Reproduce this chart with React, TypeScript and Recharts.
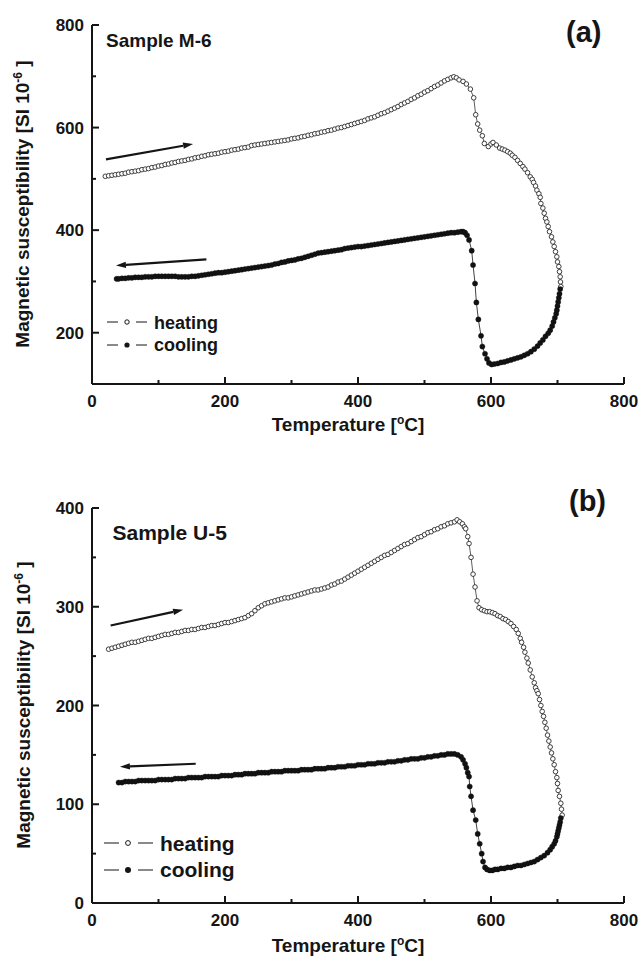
import React from 'react';
import { LineChart, Line, XAxis, YAxis, ReferenceLine } from 'recharts';

const FONT = '"Liberation Sans", Arial, Helvetica, sans-serif';
const INK = '#151515';

// ---- axis ticks ----
const X_TICKS = [0, 100, 200, 300, 400, 500, 600, 700, 800];
const X_LABELED = [0, 200, 400, 600, 800];
const Y_TICKS_A = [100, 200, 300, 400, 500, 600, 700, 800];
const Y_LABELED_A = [200, 400, 600, 800];
const Y_TICKS_B = [0, 50, 100, 150, 200, 250, 300, 350, 400];
const Y_LABELED_B = [0, 100, 200, 300, 400];

// ---- Sample M-6 : heating [T, chi] ----
const HEAT_M6: [number, number][] = [
  [20, 505], [25, 506], [30, 507], [35, 508], [40, 509], [45, 510], [50, 511], [55, 513], [60, 514], [65, 515],
  [70, 516], [75, 518], [80, 519], [85, 520], [90, 522], [95, 523], [100, 525], [105, 526], [110, 528], [115, 529],
  [120, 531], [125, 532], [130, 534], [135, 535], [140, 536], [145, 538], [150, 539], [155, 541], [160, 542], [165, 544],
  [170, 545], [175, 547], [180, 548], [185, 549], [190, 550], [195, 552], [200, 553], [205, 554], [210, 556], [215, 557],
  [220, 558], [225, 560], [230, 561], [235, 562], [240, 565], [245, 566], [250, 567], [255, 568], [260, 569], [265, 570],
  [270, 571], [275, 572], [280, 573], [285, 574], [290, 575], [295, 576], [300, 578], [305, 579], [310, 580], [315, 582],
  [320, 583], [325, 585], [330, 586], [335, 588], [340, 589], [345, 591], [350, 592], [355, 594], [360, 595], [365, 597],
  [370, 599], [375, 600], [380, 602], [385, 604], [390, 606], [395, 608], [400, 610], [405, 612], [410, 614], [415, 617],
  [420, 619], [425, 621], [430, 624], [435, 627], [440, 629], [445, 632], [450, 635], [455, 638], [460, 641], [465, 645],
  [470, 648], [475, 651], [480, 655], [485, 658], [490, 662], [495, 665], [500, 669], [505, 672], [510, 676], [515, 680],
  [520, 683], [525, 687], [530, 691], [535, 694], [540, 697], [544, 699], [548, 697], [552, 693], [558, 690], [563, 685],
  [569, 675], [574, 658], [577, 625], [580, 607], [583, 595], [587, 584], [590, 569], [596, 563], [600, 568], [603, 571],
  [608, 566], [613, 560], [617, 558], [621, 556], [625, 553], [629, 550], [632, 546], [636, 542], [640, 536], [644, 530],
  [648, 524], [651, 519], [655, 512], [659, 504], [662, 499], [664, 493], [667, 486], [669, 478], [672, 471], [674, 464],
  [675, 452], [678, 443], [680, 433], [682, 423], [684, 416], [686, 407], [688, 397], [691, 387], [693, 377], [695, 368],
  [697, 358], [699, 348], [700, 338], [702, 329], [703, 319], [704, 309], [704.5, 299], [705, 290],
];

// ---- Sample M-6 : cooling ----
const COOL_M6: [number, number][] = [
  [37, 305], [40, 305], [45, 306], [50, 306], [55, 307], [60, 307], [65, 308], [70, 308], [75, 308], [80, 309],
  [85, 309], [90, 309], [95, 310], [100, 310], [105, 310], [110, 310], [115, 310], [120, 310], [125, 310], [130, 309],
  [135, 309], [140, 309], [145, 309], [150, 310], [155, 310], [160, 311], [165, 312], [170, 313], [175, 314], [180, 315],
  [185, 316], [190, 317], [195, 317], [200, 318], [205, 319], [210, 320], [215, 321], [220, 322], [225, 323], [230, 324],
  [235, 325], [240, 326], [245, 327], [250, 328], [255, 329], [260, 330], [265, 331], [270, 332], [275, 334], [280, 335],
  [285, 337], [290, 338], [295, 340], [300, 341], [305, 342], [310, 344], [315, 345], [320, 347], [325, 349], [330, 351],
  [335, 353], [340, 355], [345, 356], [350, 357], [355, 358], [360, 359], [365, 360], [370, 361], [375, 362], [380, 364],
  [385, 365], [390, 366], [395, 367], [400, 368], [405, 368], [410, 369], [415, 370], [420, 371], [425, 372], [430, 373],
  [435, 374], [440, 375], [445, 376], [450, 377], [455, 378], [460, 379], [465, 380], [470, 381], [475, 382], [480, 383],
  [485, 384], [490, 385], [495, 386], [500, 387], [505, 388], [510, 389], [515, 390], [520, 391], [525, 392], [530, 393],
  [535, 394], [540, 395], [545, 395], [550, 396], [555, 397], [558, 397], [561, 395], [564, 390], [567, 381], [571, 360],
  [573, 332], [576, 296], [578, 259], [581, 226], [585, 194], [587, 173], [591, 159], [594, 149], [597, 141], [601, 138],
  [605, 139], [610, 140], [615, 142], [620, 143], [625, 145], [630, 147], [635, 149], [640, 151], [645, 153], [650, 156],
  [655, 159], [660, 163], [665, 168], [670, 174], [674, 180], [678, 186], [682, 193], [686, 199], [689, 205], [692, 213],
  [694, 221], [696, 229], [698, 237], [699, 244], [700, 252], [701, 260], [702, 268], [703, 276], [704, 285],
];

// ---- Sample U-5 : heating ----
const HEAT_U5: [number, number][] = [
  [25, 257], [30, 258], [35, 259], [40, 260], [45, 261], [50, 262], [55, 263], [60, 264], [65, 264], [70, 265],
  [75, 266], [80, 267], [85, 268], [90, 268], [95, 269], [100, 270], [105, 271], [110, 272], [115, 272], [120, 273],
  [125, 274], [130, 274], [135, 275], [140, 276], [145, 276], [150, 277], [155, 277], [160, 278], [165, 279], [170, 279],
  [175, 280], [180, 281], [185, 281], [190, 282], [195, 283], [200, 284], [205, 284], [210, 285], [215, 286], [220, 287],
  [225, 288], [230, 289], [235, 291], [240, 293], [245, 296], [250, 299], [255, 301], [260, 303], [265, 304], [270, 305],
  [275, 306], [280, 307], [285, 308], [290, 309], [295, 309], [300, 310], [305, 311], [310, 312], [315, 313], [320, 314],
  [325, 315], [330, 316], [335, 317], [340, 317], [345, 318], [350, 319], [355, 320], [360, 322], [365, 323], [370, 325],
  [375, 326], [380, 328], [385, 330], [390, 332], [395, 334], [400, 336], [405, 338], [410, 340], [415, 342], [420, 344],
  [425, 346], [430, 348], [435, 350], [440, 352], [445, 353], [450, 355], [455, 357], [460, 359], [465, 361], [470, 363],
  [475, 364], [480, 366], [485, 368], [490, 370], [495, 371], [500, 373], [505, 375], [510, 376], [515, 378], [520, 379],
  [525, 381], [530, 382], [535, 384], [540, 385], [545, 386], [549, 388], [553, 386], [557, 384], [560, 381], [562, 379],
  [565, 371], [567, 364], [570, 350], [573, 333], [576, 320], [579, 306], [582, 299], [586, 297], [590, 296], [594, 295],
  [598, 295], [602, 294], [606, 293], [610, 291], [614, 290], [618, 288], [622, 287], [626, 285], [630, 283], [634, 280],
  [638, 277], [641, 273], [644, 268], [646, 264], [649, 259], [651, 254], [654, 248], [656, 243], [659, 236], [662, 229],
  [665, 223], [667, 218], [669, 215], [671, 212], [673, 206], [675, 200], [677, 194], [679, 189], [681, 183], [683, 177],
  [685, 170], [687, 164], [689, 158], [691, 152], [693, 146], [695, 140], [697, 133], [699, 127], [700, 121], [701, 114],
  [703, 108], [705, 101], [706, 95], [707, 89],
];

// ---- Sample U-5 : cooling ----
const COOL_U5: [number, number][] = [
  [40, 122], [45, 122], [50, 123], [55, 123], [60, 123], [65, 123], [70, 124], [75, 124], [80, 124], [85, 124],
  [90, 124], [95, 124], [100, 125], [105, 125], [110, 125], [115, 125], [120, 125], [125, 126], [130, 126], [135, 126],
  [140, 126], [145, 127], [150, 127], [155, 127], [160, 127], [165, 127], [170, 128], [175, 128], [180, 128], [185, 128],
  [190, 128], [195, 129], [200, 129], [205, 129], [210, 129], [215, 130], [220, 130], [225, 130], [230, 131], [235, 131],
  [240, 131], [245, 131], [250, 132], [255, 132], [260, 132], [265, 132], [270, 133], [275, 133], [280, 133], [285, 133],
  [290, 134], [295, 134], [300, 134], [305, 134], [310, 134], [315, 135], [320, 135], [325, 135], [330, 135], [335, 136],
  [340, 136], [345, 136], [350, 136], [355, 137], [360, 137], [365, 137], [370, 138], [375, 138], [380, 138], [385, 139],
  [390, 139], [395, 139], [400, 140], [405, 140], [410, 140], [415, 141], [420, 141], [425, 141], [430, 142], [435, 142],
  [440, 142], [445, 143], [450, 143], [455, 143], [460, 144], [465, 144], [470, 145], [475, 145], [480, 146], [485, 146],
  [490, 146], [495, 147], [500, 147], [505, 148], [510, 148], [515, 149], [520, 149], [525, 150], [530, 150], [535, 151],
  [540, 151], [545, 151], [550, 150], [555, 148], [558, 145], [561, 141], [563, 137], [565, 132], [567, 128], [568, 118],
  [570, 108], [573, 94], [577, 84], [580, 70], [583, 60], [586, 50], [588, 42], [591, 36], [594, 34], [598, 33],
  [602, 33], [606, 34], [610, 34], [615, 35], [620, 35], [625, 36], [630, 36], [635, 37], [640, 38], [645, 38],
  [650, 39], [655, 40], [660, 41], [665, 42], [670, 44], [675, 46], [680, 48], [685, 51], [689, 54], [692, 57],
  [695, 60], [697, 63], [699, 67], [700, 70], [701, 73], [702, 76], [703, 79], [704, 82], [705, 86],
];

// ---- direction arrows [from, to] in data units ----
const ARROWS_M6 = [
  { from: { x: 21, y: 538 }, to: { x: 152, y: 568 } },
  { from: { x: 172, y: 343 }, to: { x: 36, y: 331 } },
];
const ARROWS_U5 = [
  { from: { x: 28, y: 281 }, to: { x: 137, y: 297 } },
  { from: { x: 156, y: 141 }, to: { x: 42, y: 138 } },
];

const toRows = (arr: [number, number][]) => arr.map(([t, v]) => ({ t, v }));

const makeXTick = (labeled: number[], fs: number) => (props: any) => {
  const { x, y, payload } = props;
  const major = labeled.includes(payload.value);
  return (
    <g>
      <line x1={x} x2={x} y1={y} y2={y - (major ? 7 : 4)} stroke={INK} strokeWidth={2} />
      {major && (
        <text x={x} y={y + 11} dy="0.72em" textAnchor="middle" fontFamily={FONT} fontWeight="bold" fontSize={fs} fill={INK}>
          {payload.value}
        </text>
      )}
    </g>
  );
};

const makeYTick = (labeled: number[], fs: number) => (props: any) => {
  const { x, y, payload } = props;
  const major = labeled.includes(payload.value);
  return (
    <g>
      <line x1={x} x2={x + (major ? 7 : 4)} y1={y} y2={y} stroke={INK} strokeWidth={2} />
      {major && (
        <text x={x - 8} y={y} dy="0.36em" textAnchor="end" fontFamily={FONT} fontWeight="bold" fontSize={fs} fill={INK}>
          {payload.value}
        </text>
      )}
    </g>
  );
};

const ArrowShape = (props: any) => {
  const { x1, y1, x2, y2 } = props;
  const dx = x2 - x1;
  const dy = y2 - y1;
  const len = Math.sqrt(dx * dx + dy * dy) || 1;
  const ux = dx / len;
  const uy = dy / len;
  const hl = 10;
  const hw = 3.2;
  const bx = x2 - ux * hl;
  const by = y2 - uy * hl;
  const pts = `${x2},${y2} ${bx - uy * hw},${by + ux * hw} ${bx + uy * hw},${by - ux * hw}`;
  return (
    <g>
      <line x1={x1} y1={y1} x2={bx} y2={by} stroke={INK} strokeWidth={2.2} />
      <polygon points={pts} fill={INK} />
    </g>
  );
};

type PanelProps = {
  heat: [number, number][];
  cool: [number, number][];
  arrows: { from: { x: number; y: number }; to: { x: number; y: number } }[];
  yDomain: [number, number];
  yTicks: number[];
  yLabeled: number[];
  height: number;
  top: number;
};

const Panel = ({ heat, cool, arrows, yDomain, yTicks, yLabeled, height, top }: PanelProps) => (
  <LineChart width={641} height={height} margin={{ top, right: 17, bottom: 20, left: 32 }}>
    <XAxis
      type="number"
      dataKey="t"
      domain={[0, 800]}
      ticks={X_TICKS}
      interval={0}
      allowDataOverflow
      height={30}
      tickSize={0}
      tickMargin={0}
      tickLine={false}
      axisLine={{ stroke: INK, strokeWidth: 2 }}
      tick={makeXTick(X_LABELED, 17)}
    />
    <YAxis
      type="number"
      dataKey="v"
      domain={yDomain}
      ticks={yTicks}
      interval={0}
      allowDataOverflow
      width={60}
      tickSize={0}
      tickMargin={0}
      tickLine={false}
      axisLine={{ stroke: INK, strokeWidth: 2 }}
      tick={makeYTick(yLabeled, 17)}
    />
    <Line
      data={toRows(heat)}
      dataKey="v"
      type="linear"
      stroke="#333"
      strokeWidth={0.8}
      dot={{ r: 2.3, fill: '#fff', stroke: '#2a2a2a', strokeWidth: 0.9 }}
      isAnimationActive={false}
    />
    <Line
      data={toRows(cool)}
      dataKey="v"
      type="linear"
      stroke="#111"
      strokeWidth={0.8}
      dot={{ r: 2.6, fill: '#111', stroke: '#111', strokeWidth: 0.4 }}
      isAnimationActive={false}
    />
    {arrows.map((a, i) => (
      <ReferenceLine key={i} segment={[a.from, a.to]} shape={ArrowShape} ifOverflow="visible" />
    ))}
  </LineChart>
);

const txt = { fontFamily: FONT, fontWeight: 'bold' as const, fill: INK };

export default function App() {
  return (
    <div style={{ position: 'absolute', left: 0, top: 0, width: 641, height: 958, background: '#fff' }}>
      <div style={{ position: 'absolute', left: 0, top: 0 }}>
        <Panel heat={HEAT_M6} cool={COOL_M6} arrows={ARROWS_M6} yDomain={[100, 800]} yTicks={Y_TICKS_A} yLabeled={Y_LABELED_A} height={434} top={25} />
      </div>
      <div style={{ position: 'absolute', left: 0, top: 470 }}>
        <Panel heat={HEAT_U5} cool={COOL_U5} arrows={ARROWS_U5} yDomain={[0, 400]} yTicks={Y_TICKS_B} yLabeled={Y_LABELED_B} height={483} top={38} />
      </div>
      <svg width={641} height={958} style={{ position: 'absolute', left: 0, top: 0, pointerEvents: 'none' }}>
        {/* panel (a) */}
        <text x={106} y={46.5} fontSize={19} {...txt}>Sample M-6</text>
        <text x={566} y={42} fontSize={29} {...txt}>(a)</text>
        <text x={29} y={204} fontSize={19} textAnchor="middle" transform="rotate(-90 29 204)" {...txt}>
          Magnetic susceptibility [SI 10<tspan dy={-7} fontSize={12}>-6</tspan><tspan dy={7}> ]</tspan>
        </text>
        <text x={348} y={431} fontSize={19} textAnchor="middle" {...txt}>
          Temperature [<tspan dy={-7} fontSize={12}>o</tspan><tspan dy={7}>C]</tspan>
        </text>
        <line x1={107} x2={118} y1={322} y2={322} stroke={INK} strokeWidth={1} />
        <circle cx={127} cy={322} r={2.2} fill="#fff" stroke={INK} strokeWidth={1} />
        <line x1={136} x2={147} y1={322} y2={322} stroke={INK} strokeWidth={1} />
        <text x={154} y={328.5} fontSize={18} {...txt}>heating</text>
        <line x1={107} x2={118} y1={345} y2={345} stroke={INK} strokeWidth={1} />
        <circle cx={127} cy={345} r={2.6} fill={INK} />
        <line x1={136} x2={147} y1={345} y2={345} stroke={INK} strokeWidth={1} />
        <text x={154} y={351} fontSize={18} {...txt}>cooling</text>

        {/* panel (b) */}
        <text x={112.5} y={540} fontSize={21} {...txt}>Sample U-5</text>
        <text x={569} y={511} fontSize={29} {...txt}>(b)</text>
        <text x={30} y={705} fontSize={19} textAnchor="middle" transform="rotate(-90 30 705)" {...txt}>
          Magnetic susceptibility [SI 10<tspan dy={-7} fontSize={12}>-6</tspan><tspan dy={7}> ]</tspan>
        </text>
        <text x={348} y={952} fontSize={19} textAnchor="middle" {...txt}>
          Temperature [<tspan dy={-7} fontSize={12}>o</tspan><tspan dy={7}>C]</tspan>
        </text>
        <line x1={104} x2={119} y1={843} y2={843} stroke={INK} strokeWidth={1} />
        <circle cx={128} cy={843} r={2.4} fill="#fff" stroke={INK} strokeWidth={1} />
        <line x1={138} x2={153} y1={843} y2={843} stroke={INK} strokeWidth={1} />
        <text x={160} y={850.5} fontSize={21} {...txt}>heating</text>
        <line x1={104} x2={119} y1={870} y2={870} stroke={INK} strokeWidth={1} />
        <circle cx={128} cy={870} r={3} fill={INK} />
        <line x1={138} x2={153} y1={870} y2={870} stroke={INK} strokeWidth={1} />
        <text x={160} y={876.5} fontSize={21} {...txt}>cooling</text>
      </svg>
    </div>
  );
}
